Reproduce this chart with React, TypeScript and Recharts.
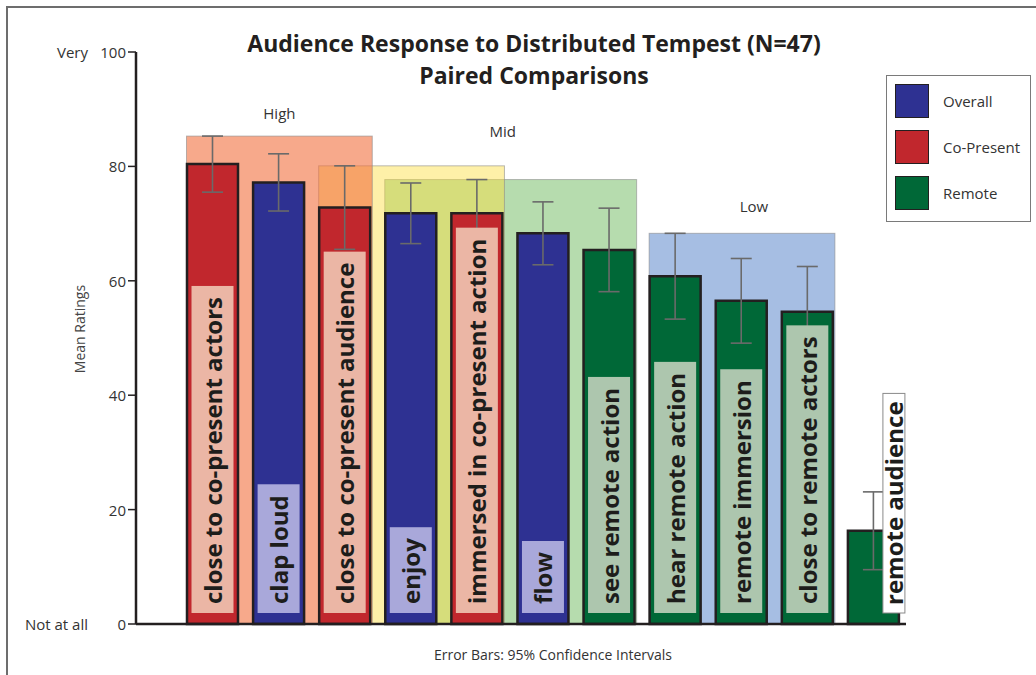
import {
  BarChart,
  Bar,
  XAxis,
  YAxis,
  ErrorBar,
  Cell,
  LabelList,
  ReferenceArea,
} from "recharts";

// paired-comparison items, in ranked order
const ITEMS = [
  "close to co-present actors",
  "clap loud",
  "close to co-present audience",
  "enjoy",
  "immersed in co-present action",
  "flow",
  "see remote action",
  "hear remote action",
  "remote immersion",
  "close to remote actors",
  "remote audience",
];
const CONDITION = [
  "Co-Present",
  "Overall",
  "Co-Present",
  "Overall",
  "Co-Present",
  "Overall",
  "Remote",
  "Remote",
  "Remote",
  "Remote",
  "Remote",
];
const MEANS = [80.4, 77.2, 72.8, 71.8, 71.8, 68.3, 65.4, 60.8, 56.5, 54.6, 16.3];
// half-width of the 95% confidence interval
const CI95 = [4.9, 5.0, 7.3, 5.3, 5.9, 5.5, 7.3, 7.5, 7.4, 7.9, 6.8];

const Y_TICKS = [0, 20, 40, 60, 80, 100];
const Y_ENDS: Record<number, string> = { 100: "Very", 0: "Not at all" };

const SERIES = ["Overall", "Co-Present", "Remote"];

// rating bands, listed in paint order
const GROUP_NAMES = ["Mid", "", "High", "Low"];
const GROUP_FIRST = [3, 2, 0, 7];
const GROUP_LAST = [6, 4, 2, 9];

const SERIES_COLOR: Record<string, { bar: string; box: string }> = {
  Overall: { bar: "#2e3192", box: "#a9a8da" },
  "Co-Present": { bar: "#c1272d", box: "#ebb6a5" },
  Remote: { bar: "#006837", box: "#adc6ae" },
};

const GROUP_STYLE = [
  { fill: "#6db95d", opacity: 0.5, dx: -8, lift: 43 },
  { fill: "#fdde3e", opacity: 0.45, dx: 0, lift: 0 },
  { fill: "#f2703e", opacity: 0.6, dx: 0, lift: 17 },
  { fill: "#4d7dc7", opacity: 0.5, dx: 12, lift: 21 },
];

const INK = "#231f20";
const TEXT = "#333333";
const FONT = "'Open Sans', sans-serif";
const LABEL_SIZE = 24;

const data = ITEMS.map((name, i) => ({
  name,
  condition: CONDITION[i],
  mean: MEANS[i],
  ci: CI95[i],
}));

let measureCtx: CanvasRenderingContext2D | null = null;
function textWidth(s: string, font: string) {
  if (!measureCtx) measureCtx = document.createElement("canvas").getContext("2d");
  if (!measureCtx) return s.length * 12;
  measureCtx.font = font;
  return measureCtx.measureText(s).width;
}

function groupTop(g: number) {
  let top = 0;
  for (let i = GROUP_FIRST[g]; i <= GROUP_LAST[g]; i++) {
    top = Math.max(top, MEANS[i] + CI95[i]);
  }
  return top;
}

// label sits in a light box inside the bar; if it won't fit, it goes
// into a white box hanging off the right side of the bar
function BarLabel(props: any) {
  const vb = props.viewBox ?? props;
  const { x, y, width, height } = vb;
  const name = String(props.value);
  const i = ITEMS.indexOf(name);
  const col = SERIES_COLOR[CONDITION[i]];
  const len = textWidth(name, `bold ${LABEL_SIZE}px 'Open Sans'`);
  const bottom = y + height - 11;
  const fits = len + 20 < height - 14;
  const boxH = fits ? len + 20 : len + 16;
  const bx = fits ? x + 4.5 : x + width - 16;
  const bw = fits ? width - 9 : 22;
  const cx = bx + bw / 2;
  return (
    <g>
      <rect
        x={bx}
        y={bottom - boxH}
        width={bw}
        height={boxH}
        fill={fits ? col.box : "#ffffff"}
        stroke={fits ? "none" : "#8a8a8a"}
        strokeWidth={1}
      />
      <text
        transform={`translate(${cx},${bottom - (fits ? 9 : 8)}) rotate(-90)`}
        dominantBaseline="central"
        fontFamily={FONT}
        fontSize={LABEL_SIZE}
        fontWeight={700}
        fill="#1d1d1b"
      >
        {name}
      </text>
    </g>
  );
}

function YTick(props: any) {
  const { x, y, payload } = props;
  const end = Y_ENDS[payload.value];
  return (
    <g fontFamily={FONT} fontSize={15} fill={TEXT}>
      <text x={x} y={y} textAnchor="end" dominantBaseline="central">
        {payload.value}
      </text>
      {end && (
        <text x={88} y={y} textAnchor="end" dominantBaseline="central">
          {end}
        </text>
      )}
    </g>
  );
}

function GroupShape(g: number) {
  return (props: any) => {
    const { x, y, width, height } = props;
    const st = GROUP_STYLE[g];
    const left = x + 7.5;
    const w = width - 12.5;
    return (
      <g>
        <rect
          x={left}
          y={y}
          width={w}
          height={height}
          fill={st.fill}
          fillOpacity={st.opacity}
          stroke="#8c8c8c"
          strokeOpacity={0.6}
          strokeWidth={1}
        />
        {GROUP_NAMES[g] && (
          <text
            x={left + w / 2 + st.dx}
            y={y - st.lift}
            textAnchor="middle"
            fontFamily={FONT}
            fontSize={15}
            fill={TEXT}
          >
            {GROUP_NAMES[g]}
          </text>
        )}
      </g>
    );
  };
}

function LegendBox() {
  return (
    <div
      style={{
        position: "absolute",
        left: 886,
        top: 75,
        boxSizing: "border-box",
        width: 145,
        height: 147,
        border: "1.5px solid #7a7a7a",
        background: "#fff",
        padding: "8px 0 0 8px",
        fontSize: 15,
        color: TEXT,
      }}
    >
      {SERIES.map((s) => (
        <div
          key={s}
          style={{ display: "flex", alignItems: "center", height: 34, marginBottom: 12 }}
        >
          <div
            style={{
              boxSizing: "border-box",
              width: 34,
              height: 34,
              background: SERIES_COLOR[s].bar,
              border: `1px solid ${INK}`,
              marginRight: 14,
            }}
          />
          <span>{s}</span>
        </div>
      ))}
    </div>
  );
}

export default function App() {
  return (
    <div
      style={{
        position: "absolute",
        left: 0,
        top: 0,
        width: 1036,
        height: 675,
        background: "#fff",
        fontFamily: FONT,
        color: TEXT,
        overflow: "hidden",
      }}
    >
      <div
        style={{
          position: "absolute",
          left: 6,
          top: 6,
          width: 1030,
          height: 669,
          borderTop: "2px solid #6d6d6d",
          borderLeft: "2px solid #6d6d6d",
          boxSizing: "border-box",
        }}
      />
      <div
        style={{
          position: "absolute",
          left: 234,
          top: 27,
          width: 600,
          textAlign: "center",
          fontWeight: 700,
          fontSize: 23,
          lineHeight: "32px",
          color: INK,
        }}
      >
        Audience Response to Distributed Tempest (N=47)
        <br />
        Paired Comparisons
      </div>
      <div
        style={{
          position: "absolute",
          left: 353,
          top: 645,
          width: 400,
          textAlign: "center",
          fontSize: 14,
          lineHeight: "20px",
        }}
      >
        Error Bars: 95% Confidence Intervals
      </div>
      <BarChart
        width={1036}
        height={675}
        data={data}
        margin={{ top: 52, right: 130, bottom: 50, left: 0 }}
      >
        {GROUP_NAMES.map((g, k) => (
          <ReferenceArea
            key={k}
            x1={ITEMS[GROUP_FIRST[k]]}
            x2={ITEMS[GROUP_LAST[k]]}
            y1={0}
            y2={groupTop(k)}
            shape={GroupShape(k)}
          />
        ))}
        <XAxis
          dataKey="name"
          height={1}
          padding={{ left: 43, right: 0 }}
          tick={false}
          tickLine={false}
          axisLine={{ stroke: INK, strokeWidth: 2.5 }}
        />
        <YAxis
          width={136}
          domain={[0, 100]}
          ticks={Y_TICKS}
          tickSize={8}
          tick={<YTick />}
          tickLine={{ stroke: INK, strokeWidth: 1.5 }}
          axisLine={{ stroke: INK, strokeWidth: 2.5 }}
          label={{
            value: "Mean Ratings",
            angle: -90,
            position: "center",
            dx: 12,
            dy: -9,
            style: { fontFamily: FONT, fontSize: 14, fill: "#444" },
          }}
        />
        <Bar
          dataKey="mean"
          barSize={51}
          stroke={INK}
          strokeWidth={2.5}
          isAnimationActive={false}
        >
          {data.map((d) => (
            <Cell key={d.name} fill={SERIES_COLOR[d.condition].bar} />
          ))}
          <ErrorBar
            dataKey="ci"
            direction="y"
            width={10.5}
            stroke="#6a6a6a"
            strokeWidth={1.6}
            isAnimationActive={false}
          />
          <LabelList dataKey="name" content={BarLabel} />
        </Bar>
      </BarChart>
      <LegendBox />
    </div>
  );
}
